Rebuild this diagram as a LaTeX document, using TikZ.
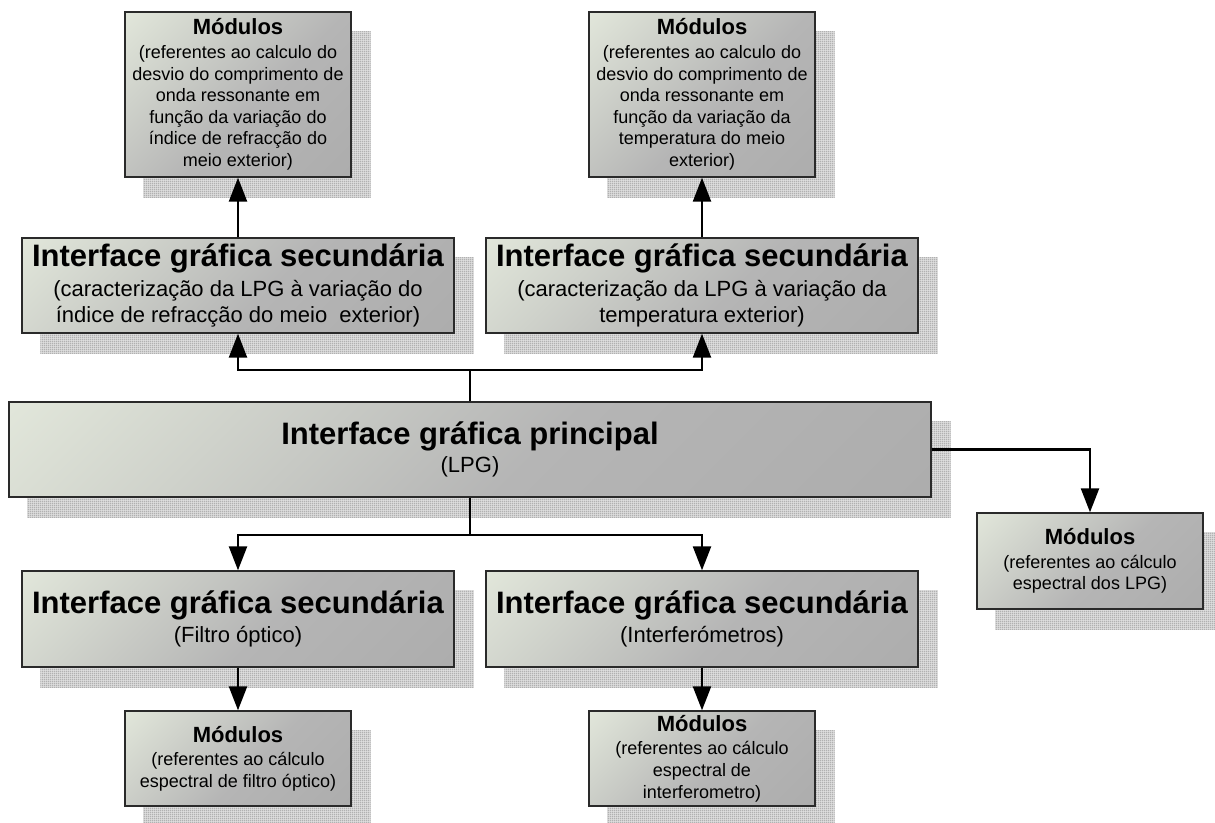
\documentclass[tikz,border=0pt]{standalone}
\usepackage{fontspec}
\setmainfont{Liberation Sans}
\usetikzlibrary{arrows.meta,patterns,backgrounds}
\definecolor{shlight}{HTML}{E1E6DA}
\definecolor{shgray}{HTML}{B5B5B5}
\definecolor{shdark}{HTML}{A9A9A9}
\definecolor{boxline}{HTML}{2A2A2A}
\definecolor{shadowbase}{HTML}{DEDEDE}
\definecolor{shadowline}{HTML}{ADADAD}
\pgfdeclareverticalshading{boxshade}{100bp}{color(0bp)=(shdark); color(45bp)=(shgray); color(85bp)=(shlight); color(100bp)=(shlight)}
\pgfdeclarepatternformonly{finegrid}{\pgfpointorigin}{\pgfqpoint{2pt}{2pt}}{\pgfqpoint{2pt}{2pt}}{%
  \pgfsetlinewidth{0.6pt}%
  \pgfpathmoveto{\pgfqpoint{0pt}{1pt}}\pgfpathlineto{\pgfqpoint{2pt}{1pt}}%
  \pgfpathmoveto{\pgfqpoint{1pt}{0pt}}\pgfpathlineto{\pgfqpoint{1pt}{2pt}}%
  \pgfusepath{stroke}}
\tikzset{
  box/.style={draw=boxline, line width=1.4pt, shade, shading=boxshade, shading angle=45,
    align=center, inner sep=0pt},
  modfont/.style={font=\fontsize{18}{21.6}\selectfont},
  secfont/.style={font=\fontsize{22}{26.4}\selectfont},
  conn/.style={line width=2.4pt, -{Triangle[length=24pt,width=18pt]}},
  plain/.style={line width=2.4pt},
  shadowfill/.style={fill=shadowbase},
  shadowpat/.style={pattern=finegrid, pattern color=shadowline},
}
\newcommand{\modhead}{\fontsize{22}{26}\selectfont\bfseries}
\newcommand{\sechead}{\fontsize{31}{37}\selectfont\bfseries}
\newcommand{\boxshadow}[1]{%
  \fill[shadowfill] ([shift={(19,20)}]#1.north west) rectangle ([shift={(19,20)}]#1.south east);
  \fill[shadowpat] ([shift={(19,20)}]#1.north west) rectangle ([shift={(19,20)}]#1.south east);}
\begin{document}
\begin{tikzpicture}[x=1pt,y=-1pt]
\useasboundingbox (0,0) rectangle (1215,822);

% top modules
\node[box, modfont, minimum width=226pt, minimum height=165pt] (m1) at (238,94.5)
  {{\modhead Módulos}\\[2pt] (referentes ao calculo do\\ desvio do comprimento de\\ onda ressonante em\\ função da variação do\\ índice de refracção do\\ meio exterior)};
\node[box, modfont, minimum width=226pt, minimum height=165pt] (m2) at (702,94.5)
  {{\modhead Módulos}\\[2pt] (referentes ao calculo do\\ desvio do comprimento de\\ onda ressonante em\\ função da variação da\\ temperatura do meio\\ exterior)};

% top secondary
\node[box, secfont, minimum width=432pt, minimum height=95pt] (s1) at (238,285.5)
  {{\sechead Interface gráfica secundária}\\[3pt] (caracterização da LPG à variação do\\ índice de refracção do meio \ exterior)};
\node[box, secfont, minimum width=432pt, minimum height=95pt] (s2) at (702,285.5)
  {{\sechead Interface gráfica secundária}\\[3pt] (caracterização da LPG à variação da\\ temperatura exterior)};

% main
\node[box, secfont, minimum width=922pt, minimum height=95pt] (main) at (470,449.5)
  {{\sechead Interface gráfica principal}\\[1pt] (LPG)};

% right module
\node[box, modfont, minimum width=226pt, minimum height=96pt] (m5) at (1090,561)
  {{\modhead Módulos}\\[2pt] (referentes ao cálculo\\ espectral dos LPG)};

% bottom secondary
\node[box, secfont, minimum width=432pt, minimum height=96pt] (s3) at (238,619)
  {{\sechead Interface gráfica secundária}\\[3pt] (Filtro óptico)};
\node[box, secfont, minimum width=432pt, minimum height=96pt] (s4) at (702,619)
  {{\sechead Interface gráfica secundária}\\[3pt] (Interferómetros)};

% bottom modules
\node[box, modfont, minimum width=226pt, minimum height=95pt] (m3) at (238,758.5)
  {{\modhead Módulos}\\[2pt] (referentes ao cálculo\\ espectral de filtro óptico)};
\node[box, modfont, minimum width=226pt, minimum height=95pt] (m4) at (702,758.5)
  {{\modhead Módulos}\\[2pt] (referentes ao cálculo\\ espectral de\\ interferometro)};

\begin{scope}[on background layer]
  \boxshadow{m1}\boxshadow{m2}\boxshadow{s1}\boxshadow{s2}\boxshadow{main}
  \boxshadow{m5}\boxshadow{s3}\boxshadow{s4}\boxshadow{m3}\boxshadow{m4}
\end{scope}

% connectors
\coordinate (jt) at (main.north |- 0,370);
\coordinate (jb) at (main.south |- 0,535);
\draw[plain] (main.north) -- (jt);
\draw[conn] (jt) -| (s1.south);
\draw[conn] (jt) -| (s2.south);
\draw[conn] (s1.north) -- (m1.south);
\draw[conn] (s2.north) -- (m2.south);
\draw[plain] (main.south) -- (jb);
\draw[conn] (jb) -| (s3.north);
\draw[conn] (jb) -| (s4.north);
\draw[conn] (s3.south) -- (m3.north);
\draw[conn] (s4.south) -- (m4.north);
\draw[conn] (main.east) -| (m5.north);
\end{tikzpicture}
\end{document}
